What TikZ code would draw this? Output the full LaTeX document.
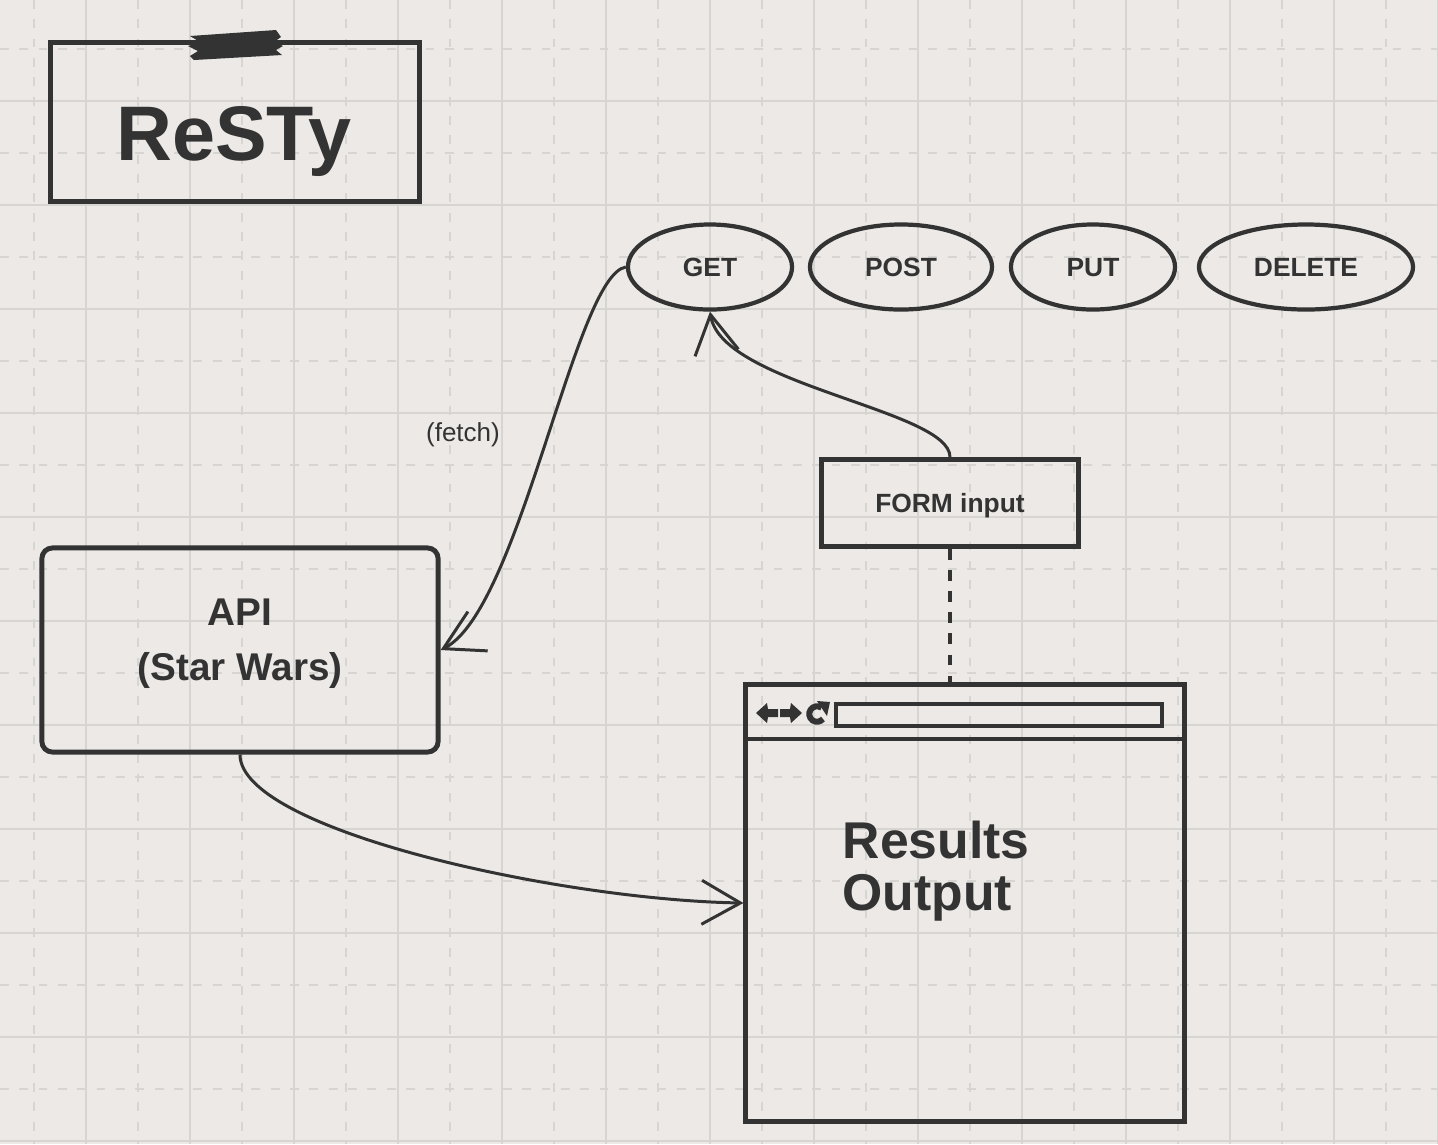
\documentclass[tikz,border=0pt]{standalone}
\usepackage{fontspec}
\setmainfont{Liberation Sans}
\usetikzlibrary{shapes.geometric,arrows.meta}

\definecolor{ink}{HTML}{333333}
\definecolor{paper}{HTML}{ECE9E6}
\definecolor{gridc}{HTML}{D7D5D2}

\tikzset{
  titlebox/.style={draw=ink, line width=1.4pt},
  verb/.style={draw=ink, ellipse, line width=1.2pt, text=ink, font=\fontsize{7.5}{9}\selectfont\bfseries, minimum height=0.85cm, text depth=0pt},
  box/.style={draw=ink, line width=1.4pt, text=ink, font=\fontsize{7.5}{9}\selectfont\bfseries, text depth=0pt},
  caption/.style={text=ink, inner sep=0pt},
  link/.style={draw=ink, line width=0.85pt, -{Straight Barb[length=11pt,width=12.5pt,line width=0.85pt]}}
}

\begin{document}
\begin{tikzpicture}[x=0.01cm, y=-0.01cm]

    \useasboundingbox (0,0) rectangle (1438,1144);
    \fill[paper] (0,0) rectangle (1438,1144);

    % grid
    \foreach \k in {0,...,27}{
        \pgfmathtruncatemacro{\gx}{34+52*\k}
        \ifodd\k
            \draw[gridc, line width=0.45pt] (\gx,0) -- (\gx,1144);
        \else
            \draw[gridc, line width=0.45pt, dash pattern=on 2.5pt off 3pt] (\gx,0) -- (\gx,1144);
        \fi
    }
    \foreach \k in {0,...,21}{
        \pgfmathtruncatemacro{\gy}{49+52*\k}
        \ifodd\k
            \draw[gridc, line width=0.45pt] (0,\gy) -- (1438,\gy);
        \else
            \draw[gridc, line width=0.45pt, dash pattern=on 2.5pt off 3pt] (0,\gy) -- (1438,\gy);
        \fi
    }

    % title
    \node[titlebox, minimum width=3.68cm, minimum height=1.59cm] (title) at (235,122) {};
    \node[caption, font=\fontsize{22}{26}\selectfont\bfseries, anchor=base] (titletext) at (234,160) {ReSTy};
    \fill[ink] (190,36) -- (200,42) -- (188,46) -- (198,51) -- (190,56) -- (194,60)
               -- (282,55) -- (276,50) -- (283,46) -- (274,42) -- (281,37) -- (276,30) -- cycle;

    % methods
    \node[verb, minimum width=1.64cm] (get) at (710,267) {GET};
    \node[verb, minimum width=1.82cm] (post) at (901,267) {POST};
    \node[verb, minimum width=1.64cm] (put) at (1093,267) {PUT};
    \node[verb, minimum width=2.14cm] (delete) at (1306,267) {DELETE};

    % api
    \node[box, rounded corners=3pt, minimum width=3.96cm, minimum height=2.04cm] (api) at (240,650) {};
    \node[caption, font=\fontsize{11}{15.6}\selectfont\bfseries, align=center, anchor=base] (apitext) at (240,680) {API\\(Star Wars)};

    % form
    \node[box, minimum width=2.57cm, minimum height=0.87cm] (form) at (950,503) {FORM input};

    % browser
    \node[box, minimum width=4.38cm, minimum height=4.37cm] (browser) at (965,903) {};
    \draw[ink, line width=1.4pt] ([yshift=-0.57cm]browser.north west) -- ([yshift=-0.57cm]browser.north east);
    \node[draw=ink, line width=1.1pt, minimum width=3.26cm, minimum height=0.22cm, inner sep=0pt] (url) at (999,715) {};
    \fill[ink] (756,713) -- (767,703) -- (768,709) -- (778,709) -- (778,717) -- (768,717) -- (767,723) -- cycle;
    \fill[ink] (802,713) -- (791,703) -- (790,709) -- (780,709) -- (780,717) -- (790,717) -- (791,723) -- cycle;
    \draw[ink, line width=1.7pt] (817,714) ++(55:2.2pt) arc[start angle=55, end angle=320, radius=2.2pt];
    \fill[ink] (817,701) -- (830,702) -- (827,716) -- cycle;
    \node[caption, font=\fontsize{14.7}{14.7}\selectfont\bfseries, align=left, anchor=base west] (results) at (842,910) {Results\\Output};

    % connectors
    \draw[link] (get.west) .. controls (575,275) and (520,610) .. (api.east);
    \node[caption, font=\fontsize{7.4}{9}\selectfont] (fetch) at (463,435) {(fetch)};
    \draw[link] (form.north) .. controls (950,410) and (722,385) .. (get.south);
    \draw[link] (api.south) .. controls (240,830) and (560,900) .. (browser.west);
    \draw[ink, line width=0.9pt, dashed] (form.south) -- (form.south |- browser.north);

\end{tikzpicture}
\end{document}
